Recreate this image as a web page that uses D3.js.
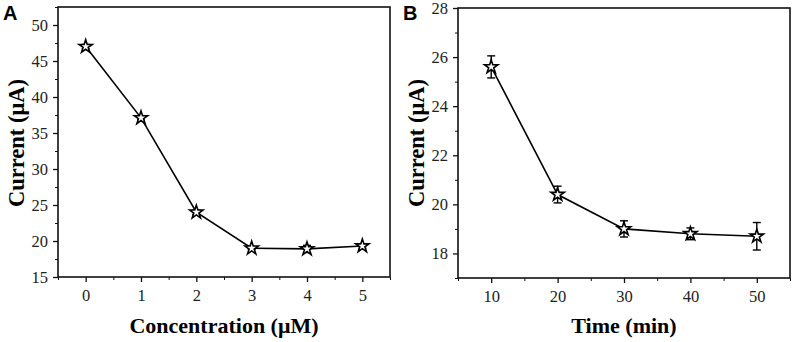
<!DOCTYPE html>
<html>
<head>
<meta charset="utf-8">
<script src="https://cdn.jsdelivr.net/npm/d3@7"></script>
<style>
  body { margin: 0; background: #fff; }
  svg text { font-family: "Liberation Serif", "Times New Roman", serif; }
</style>
</head>
<body>
<svg id="chart" width="796" height="342"></svg>
<script>
// Panel A: concentration series
const concX = [0, 1, 2, 3, 4, 5];
const concY = [47.0, 37.1, 24.0, 19.0, 18.9, 19.3];
const concErr = [0.3, 0.3, 0.3, 0.2, 0.5, 0.3];
const concTicksY = [15, 20, 25, 30, 35, 40, 45, 50];

// Panel B: time series
const timeX = [10, 20, 30, 40, 50];
const timeY = [25.6, 20.4, 19.0, 18.8, 18.7];
const timeErr = [0.45, 0.34, 0.33, 0.24, 0.56];
const timeTicksY = [18, 20, 22, 24, 26, 28];

const svg = d3.select("#chart");

function panel(opt) {
  const g = svg.append("g");
  const x = d3.scaleLinear().domain(opt.xDomain).range([opt.left, opt.right]);
  const y = d3.scaleLinear().domain(opt.yDomain).range([opt.bottom, opt.top]);

  // minor ticks
  g.append("g")
    .attr("transform", `translate(0,${opt.bottom})`)
    .call(d3.axisBottom(x).tickValues(opt.xMinor).tickSize(3).tickFormat(""))
    .call(a => a.select(".domain").remove());
  g.append("g")
    .attr("transform", `translate(${opt.left},0)`)
    .call(d3.axisLeft(y).tickValues(opt.yMinor).tickSize(3).tickFormat(""))
    .call(a => a.select(".domain").remove());

  // major axes
  const xa = g.append("g")
    .attr("transform", `translate(0,${opt.bottom})`)
    .call(d3.axisBottom(x).tickValues(opt.xTicks).tickFormat(d3.format("d"))
      .tickSize(5).tickSizeOuter(0).tickPadding(7));
  const ya = g.append("g")
    .attr("transform", `translate(${opt.left},0)`)
    .call(d3.axisLeft(y).tickValues(opt.yTicks).tickFormat(d3.format("d"))
      .tickSize(5).tickSizeOuter(0).tickPadding(5));
  [xa, ya].forEach(a => {
    a.selectAll("text").attr("font-size", 16.5).attr("fill", "#222")
      .style("font-family", "'Liberation Serif', serif");
    a.selectAll("line").attr("stroke-width", 1.3);
    a.select(".domain").remove();
  });
  g.selectAll("line").attr("stroke", "#111");

  // frame
  g.append("rect")
    .attr("x", opt.left).attr("y", opt.top)
    .attr("width", opt.right - opt.left).attr("height", opt.bottom - opt.top)
    .attr("fill", "none").attr("stroke", "#111").attr("stroke-width", 1.6);

  const pts = opt.xs.map((v, i) => ({ x: v, y: opt.ys[i], e: opt.errs[i] }));

  // line
  g.append("path")
    .datum(pts)
    .attr("fill", "none").attr("stroke", "#000").attr("stroke-width", 1.6)
    .attr("d", d3.line().x(d => x(d.x)).y(d => y(d.y)));

  // error bars
  const eb = g.append("g").attr("stroke", "#000").attr("stroke-width", 1.4);
  pts.forEach(d => {
    eb.append("line").attr("x1", x(d.x)).attr("x2", x(d.x))
      .attr("y1", y(d.y - d.e)).attr("y2", y(d.y + d.e));
    [d.y - d.e, d.y + d.e].forEach(v => {
      eb.append("line").attr("x1", x(d.x) - 4).attr("x2", x(d.x) + 4)
        .attr("y1", y(v)).attr("y2", y(v));
    });
  });

  // star markers
  g.selectAll(".star").data(pts).enter().append("path")
    .attr("class", "star")
    .attr("transform", d => `translate(${x(d.x)},${y(d.y)})`)
    .attr("d", d3.symbol().type(d3.symbolStar).size(55))
    .attr("fill", "#fff").attr("stroke", "#000").attr("stroke-width", 1.6);

  // axis titles
  svg.append("text")
    .attr("x", (opt.left + opt.right) / 2).attr("y", 333)
    .attr("text-anchor", "middle").attr("font-size", 22).attr("font-weight", "bold")
    .text(opt.xTitle);
  svg.append("text")
    .attr("transform", `translate(${opt.yTitleX},143) rotate(-90)`)
    .attr("text-anchor", "middle").attr("font-size", 22.5).attr("font-weight", "bold")
    .text("Current (μA)");

  // panel letter
  svg.append("text")
    .attr("x", opt.letterX).attr("y", 20)
    .style("font-family", "'Liberation Sans', Arial, sans-serif")
    .attr("font-size", 20).attr("font-weight", "bold")
    .text(opt.letter);
}

panel({
  left: 58, right: 390, top: 7, bottom: 277,
  xDomain: [-0.5, 5.5], yDomain: [15, 52.5],
  xTicks: concX, xMinor: [-0.5, 0.5, 1.5, 2.5, 3.5, 4.5, 5.5],
  yTicks: concTicksY, yMinor: [17.5, 22.5, 27.5, 32.5, 37.5, 42.5, 47.5, 52.5],
  xs: concX, ys: concY, errs: concErr,
  xTitle: "Concentration (μM)", yTitleX: 24, letter: "A", letterX: 3
});

panel({
  left: 458, right: 790, top: 8, bottom: 278,
  xDomain: [5, 55], yDomain: [17, 28],
  xTicks: timeX, xMinor: [5, 15, 25, 35, 45, 55],
  yTicks: timeTicksY, yMinor: [17, 19, 21, 23, 25, 27],
  xs: timeX, ys: timeY, errs: timeErr,
  xTitle: "Time (min)", yTitleX: 424, letter: "B", letterX: 403
});
</script>
</body>
</html>
